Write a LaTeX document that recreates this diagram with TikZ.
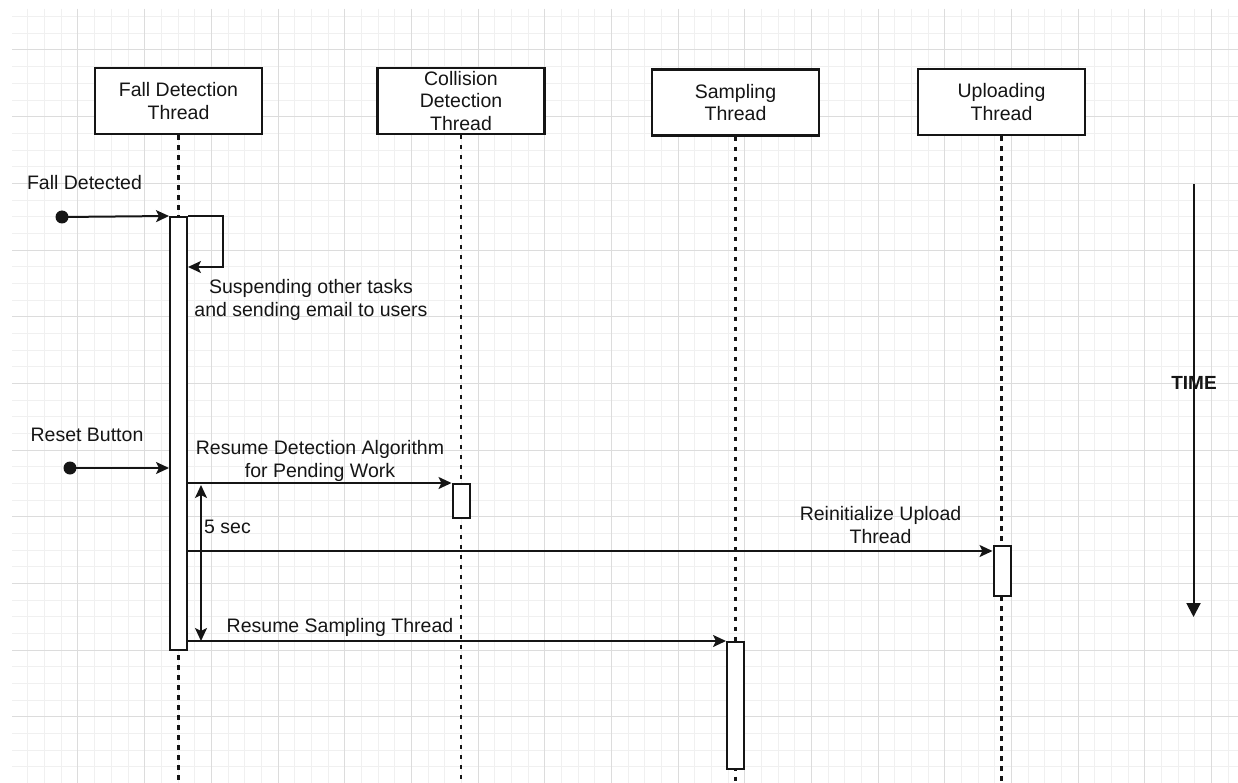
\documentclass[tikz,border=0pt]{standalone}
\usepackage{fontspec}
\setmainfont{Liberation Sans}
\usetikzlibrary{arrows.meta}
\definecolor{gridminor}{HTML}{F0F0F0}
\definecolor{gridmajor}{HTML}{DCDCDC}
\definecolor{ink}{HTML}{151515}

\begin{document}
\begin{tikzpicture}[x=1pt,y=-1pt,
  every node/.style={font=\fontsize{19.5}{22.5}\selectfont, text=ink},
  thread/.style={draw=ink, line width=2.2pt, fill=white, minimum width=167pt,
    minimum height=66pt, align=center, inner sep=0pt},
  actbar/.style={draw=ink, line width=2pt, fill=white, minimum width=17pt, inner sep=0pt},
  lifeline/.style={draw=ink, line width=2.2pt, dash pattern=on 4.5pt off 5.5pt},
  startdot/.style={circle, fill=ink, minimum size=13pt, inner sep=0pt},
  msg/.style={draw=ink, line width=2pt, -{Stealth[length=13pt,width=12pt,inset=3pt]}},
  span/.style={draw=ink, line width=2pt,
    {Stealth[length=13pt,width=12pt,inset=3pt]}-{Stealth[length=13pt,width=12pt,inset=3pt]}},
  timeline/.style={draw=ink, line width=2pt, -{Triangle[length=14pt,width=14pt]}},
  minorline/.style={draw=gridminor, line width=1pt},
  majorline/.style={draw=gridmajor, line width=1pt}
]
\useasboundingbox (0,0) rectangle (1238,783);
\fill[white] (0,0) rectangle (1238,783);

% background grid
\begin{scope}
  \clip (12,9) rectangle (1238,783);
  \foreach \i in {0,...,74}
    \draw[minorline] ({11.33+16.667*\i},9) -- ({11.33+16.667*\i},783);
  \foreach \j in {0,...,47}
    \draw[minorline] (12,{16.67+16.667*\j}) -- (1238,{16.67+16.667*\j});
  \foreach \i in {0,...,18}
    \draw[majorline] ({11.33+66.667*\i},9) -- ({11.33+66.667*\i},783);
  \foreach \j in {0,...,11}
    \draw[majorline] (12,{50+66.667*\j}) -- (1238,{50+66.667*\j});
\end{scope}

% thread heads
\node[thread] (fd) at (178.5,101) {Fall Detection\\Thread};
\node[thread] (cd) at (461,100.7) {Collision\\Detection\\Thread};
\node[thread] (sp) at (735.5,102.5) {Sampling\\Thread};
\node[thread] (up) at (1001.5,102) {Uploading\\Thread};

% lifelines
\draw[lifeline] (fd.south) -- (fd.south |- 0,783);
\draw[lifeline] (cd.south) -- (cd.south |- 0,783);
\draw[lifeline] (sp.south) -- (sp.south |- 0,783);
\draw[lifeline] (up.south) -- (up.south |- 0,783);

% activation bars
\node[actbar, minimum height=433pt] (fdbar) at (178.5,433.5) {};
\node[actbar, minimum height=34pt] (cdbar) at (461,501) {};
\node[actbar, minimum height=50pt] (upbar) at (1002,571) {};
\node[actbar, minimum height=127pt] (spbar) at (735.5,705.5) {};

% external triggers
\node[startdot] (d1) at (62,217) {};
\node[startdot] (d2) at (70,468) {};
\draw[msg] (d1.center) -- (fdbar.north west);
\draw[msg] (d2.center) -- (fdbar.west |- d2.center);
\node[anchor=base] (lfall) at (84.5,190) {Fall Detected};
\node[anchor=base] (lreset) at (87,441) {Reset Button};

% self message
\draw[msg] (fdbar.north east) -- ++(35,0) |- (fdbar.east |- 0,267);
\node[align=center] (lsusp) at (311,300) {Suspending other tasks\\and sending email to users};

% messages to other threads
\draw[msg] (fdbar.east |- cdbar.north) -- (cdbar.north west);
\node[align=center] (lresdet) at (320,461) {Resume Detection Algorithm\\for Pending Work};

\draw[msg] (fdbar.east |- 0,551) -- (upbar.west |- 0,551);
\node[align=center] (lreinit) at (880.5,525) {Reinitialize Upload\\Thread};

\draw[msg] (fdbar.east |- spbar.north) -- (spbar.north west);
\node[anchor=base] (lsamp) at (340,632) {Resume Sampling Thread};

% 5 second interval
\coordinate (w1) at (201,485);
\coordinate (w2) at (201,641);
\draw[span] (w1) -- (w2);
\node[anchor=base] (l5) at (227.5,533) {5 sec};

% time axis
\coordinate (t1) at (1193.5,184);
\coordinate (t2) at (1193.5,617);
\draw[timeline] (t1) -- (t2);
\node[font=\fontsize{19}{22}\selectfont\bfseries] (ltime) at (1194,383) {TIME};
\end{tikzpicture}
\end{document}
